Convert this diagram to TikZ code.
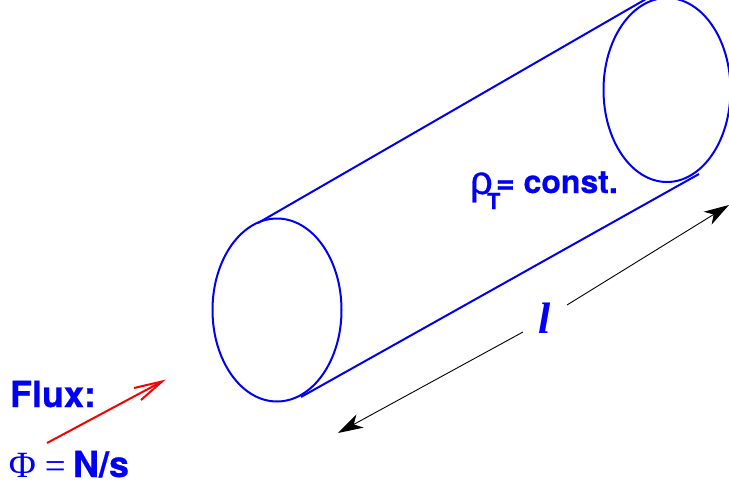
\documentclass[tikz,border=0pt]{standalone}
\usepackage{fontspec}
\setmainfont{TeX Gyre Heros}[BoldFeatures={FakeBold=0.5}]
\newfontfamily\serifface{Liberation Serif}
\newfontfamily\symface{Liberation Sans}[FakeBold=0.8]
\usetikzlibrary{arrows.meta}
\definecolor{tubeblue}{RGB}{0,0,245}
\definecolor{fluxred}{RGB}{250,0,0}
\tikzset{
  tube/.style={draw=tubeblue,line width=2pt},
  lbl/.style={text=tubeblue,inner sep=0pt,outer sep=0pt,anchor=base west},
  blackarrow/.style={draw=black,line width=0.9pt,-{Stealth[length=25pt,width=15pt,inset=7pt]}},
  redline/.style={draw=fluxred,line width=2pt,line join=miter}
}
\begin{document}
\begin{tikzpicture}[x=1pt,y=-1pt]
\useasboundingbox (0,0) rectangle (729,487);
\clip (0,0) rectangle (729,487);
\fill[white] (0,0) rectangle (729,487);
% tube
\draw[tube] (277,310) ellipse [x radius=64.5,y radius=91.5];
\draw[tube] (667,90) ellipse [x radius=63.5,y radius=92];
\coordinate (topA) at (258,223);
\coordinate (topB) at (646,-1);
\coordinate (botA) at (301,397);
\coordinate (botB) at (699,174);
\draw[tube] (topA) -- (topB);
\draw[tube] (botA) -- (botB);
% length arrows
\coordinate (lenL) at (338,433);
\coordinate (lenLs) at (523,332);
\coordinate (lenR) at (729,205);
\coordinate (lenRs) at (567,305);
\draw[blackarrow] (lenLs) -- (lenL);
\draw[blackarrow] (lenRs) -- (lenR);
% flux arrow
\coordinate (fluxA) at (47,443);
\coordinate (fluxB) at (162,381.5);
\coordinate (barbA) at (134,388);
\coordinate (barbB) at (141,400);
\draw[redline] (fluxA) -- (fluxB);
\draw[redline] (barbA) -- (fluxB) -- (barbB);
% labels
\node[lbl,font=\fontsize{36}{36}\selectfont\bfseries] (flux) at (10,407) {Flux:};
\node[lbl,font=\fontsize{37}{37}\selectfont\serifface] (phi) at (9,477) {Φ};
\node[lbl,font=\fontsize{37}{37}\selectfont\serifface] (eq) at (45,478) {=};
\node[lbl,font=\fontsize{36}{36}\selectfont\bfseries] (ns) at (73,477) {N/s};
\node[lbl,font=\fontsize{40}{40}\selectfont\symface] (rho) at (470,194) {ρ};
\node[lbl,font=\fontsize{22}{22}\selectfont\bfseries] (rhoT) at (487,209) {T};
\node[lbl,font=\fontsize{32}{32}\selectfont\bfseries] (const) at (496,193) {= const.};
\node[lbl,font=\fontsize{44}{44}\selectfont\serifface\bfseries\itshape] (len) at (538,333) {l};
\end{tikzpicture}
\end{document}
